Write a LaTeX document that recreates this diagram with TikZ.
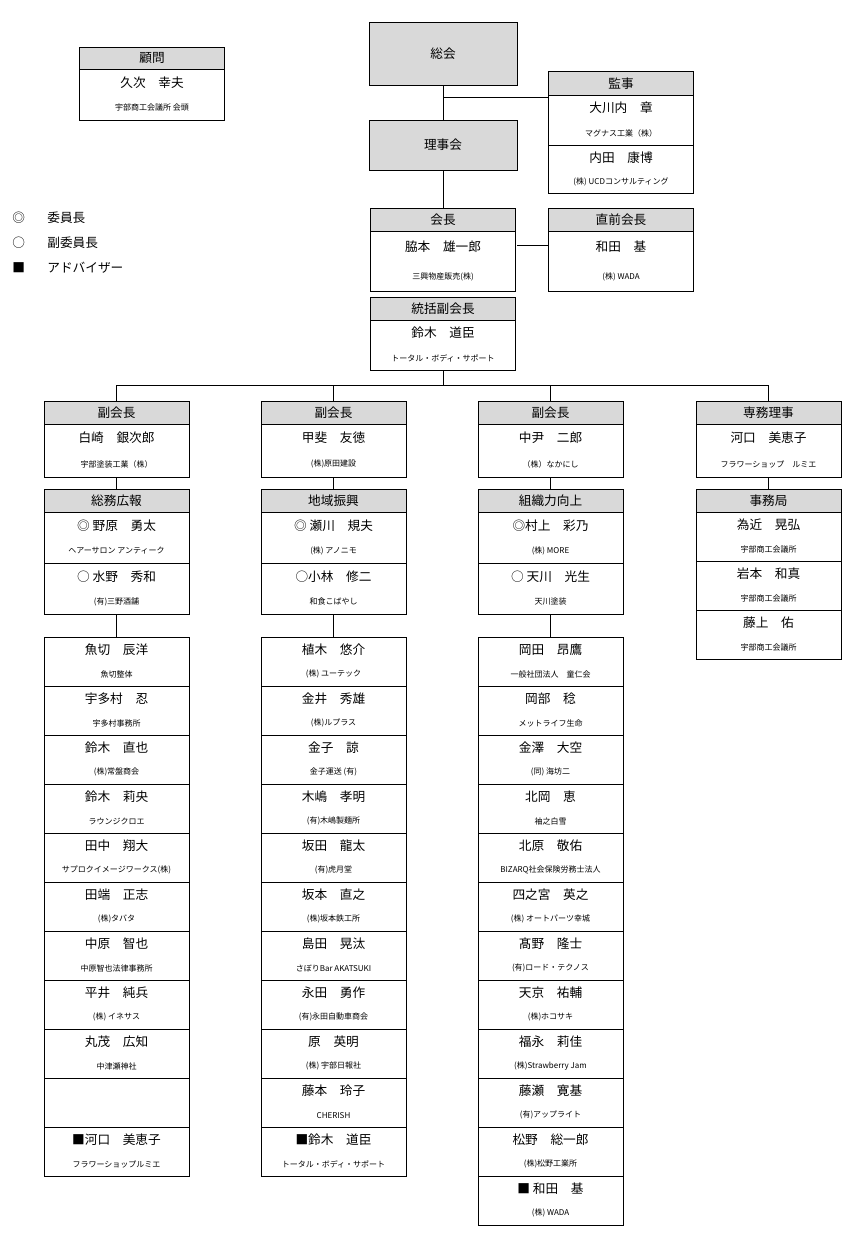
\documentclass[tikz,border=0pt]{standalone}
\usepackage{fontspec}
\setmainfont{Noto Sans CJK JP}
\newcommand\nm{\fontsize{9.5pt}{11pt}\selectfont}
\newcommand\co{\fontsize{6pt}{7pt}\selectfont}
\tikzset{
 hd/.style={draw,fill=gray!30,minimum width=108.75pt,inner sep=0pt,font=\nm},
 memb/.style={draw,minimum width=108.75pt,inner sep=0pt},
 txt/.style={inner sep=0pt},
 ln/.style={line width=0.6pt}
}
% \Hd{name}{x}{ytop}{hpx}{text}
\newcommand\Hd[5]{\node[hd,anchor=north,minimum height=#4*0.75pt] (#1) at (#2,#3) {#5};}
% \Mem{name}{x}{ytop}{hpx}{person}{company}
\newcommand\Mem[6]{\node[memb,anchor=north,minimum height=#4*0.75pt] (#1) at (#2,#3) {};
 \node[txt] at ([yshift=-0.195*#4pt]#1.north) {\nm #5};
 \node[txt] at ([yshift=-0.57*#4pt]#1.north) {\co #6};}
\begin{document}
\begin{tikzpicture}[x=0.75pt,y=-0.75pt,line width=0.6pt]
\useasboundingbox (0,0) rectangle (850,1250);
% top
\node[draw,fill=gray!30,minimum width=111pt,minimum height=47.25pt,font=\nm] (sokai) at (443,53.5) {総会};
\node[draw,fill=gray!30,minimum width=111pt,minimum height=37.5pt,font=\nm] (riji) at (443,145) {理事会};
\draw (sokai) -- (riji);
% komon
\Hd{komon}{152}{47}{22}{顧問}
\Mem{komon1}{152}{69}{51}{久次　幸夫}{宇部商工会議所 会頭}
% kanji
\Hd{kanji}{621}{71}{24}{監事}
\Mem{kanji1}{621}{95}{50}{大川内　章}{マグナス工業（株）}
\Mem{kanji2}{621}{145}{48}{内田　康博}{(株) UCDコンサルティング}
\coordinate (j1) at (443,97);
\draw (j1) -- (j1 -| kanji1.west);
% kaicho
\Hd{kaicho}{443}{208}{23}{会長}
\Mem{kaicho1}{443}{231}{60}{脇本　雄一郎}{三興物産販売(株)}
\Hd{choku}{621}{208}{23}{直前会長}
\Mem{choku1}{621}{231}{60}{和田　基}{(株) WADA}
\draw (riji) -- (kaicho);
\coordinate (j2) at (517,245);
\draw (j2) -- (j2 -| choku1.west);
\Hd{tokatsu}{443}{297}{23}{統括副会長}
\Mem{tokatsu1}{443}{320}{50}{鈴木　道臣}{トータル・ボディ・サポート}
\coordinate (bus) at (443,385);
\draw (tokatsu1.south) -- (bus);
% legend
\node[txt,anchor=west,font=\nm] (lg1) at (12,218) {◎};
\node[txt,anchor=west,font=\nm] (lg1t) at (47,218) {委員長};
\node[txt,anchor=west,font=\nm] (lg2) at (12,243) {○};
\node[txt,anchor=west,font=\nm] (lg2t) at (47,243) {副委員長};
\node[txt,anchor=west,font=\nm] (lg3) at (12,268) {■};
\node[txt,anchor=west,font=\nm] (lg3t) at (47,268) {アドバイザー};
% columns
\Hd{v1}{116.5}{401}{23}{副会長}
\Mem{v1m}{116.5}{424}{53}{白崎　銀次郎}{宇部塗装工業（株）}
\Hd{v2}{333.5}{401}{23}{副会長}
\Mem{v2m}{333.5}{424}{53}{甲斐　友徳}{(株)原田建設}
\Hd{v3}{550.5}{401}{23}{副会長}
\Mem{v3m}{550.5}{424}{53}{中尹　二郎}{（株）なかにし}
\Hd{v4}{768.5}{401}{23}{専務理事}
\Mem{v4m}{768.5}{424}{53}{河口　美恵子}{フラワーショップ　ルミエ}
\foreach \n in {v1,v2,v3,v4} {\draw (\n.north) |- (bus);}
% committees
\Hd{h1}{116.5}{489}{23}{総務広報}
\Mem{h1a}{116.5}{512}{51}{◎ 野原　勇太}{ヘアーサロン アンティーク}
\Mem{h1b}{116.5}{563}{51}{○ 水野　秀和}{(有)三野酒舗}
\Hd{h2}{333.5}{489}{23}{地域振興}
\Mem{h2a}{333.5}{512}{51}{◎ 瀬川　規夫}{(株) アノニモ}
\Mem{h2b}{333.5}{563}{51}{○小林　修二}{和食こばやし}
\Hd{h3}{550.5}{489}{23}{組織力向上}
\Mem{h3a}{550.5}{512}{51}{◎村上　彩乃}{(株) MORE}
\Mem{h3b}{550.5}{563}{51}{○ 天川　光生}{天川塗装}
\Hd{h4}{768.5}{489}{23}{事務局}
\Mem{h4a}{768.5}{512}{49}{為近　晃弘}{宇部商工会議所}
\Mem{h4b}{768.5}{561}{49}{岩本　和真}{宇部商工会議所}
\Mem{h4c}{768.5}{610}{49}{藤上　佑}{宇部商工会議所}
\foreach \n in {1,2,3,4} {\draw (v\n m.south) -- (h\n.north);}
% member lists
\foreach [count=\i] \p/\q in {魚切　辰洋/魚切整体,宇多村　忍/宇多村事務所,鈴木　直也/(株)常盤商会,鈴木　莉央/ラウンジクロエ,田中　翔大/サプロクイメージワークス(株),田端　正志/(株)タバタ,中原　智也/中原智也法律事務所,平井　純兵/(株) イネサス,丸茂　広知/中津瀬神社,{}/{},■河口　美恵子/フラワーショップルミエ}
 {\pgfmathsetmacro\yy{637+49*(\i-1)}\Mem{a\i}{116.5}{\yy}{49}{\p}{\q}}
\foreach [count=\i] \p/\q in {植木　悠介/(株) ユーテック,金井　秀雄/(株)ルプラス,金子　諒/金子運送 (有),木嶋　孝明/(有)木嶋製麺所,坂田　龍太/(有)虎月堂,坂本　直之/(株)坂本鉄工所,島田　晃汰/さぼりBar AKATSUKI,永田　勇作/(有)永田自動車商会,原　英明/(株) 宇部日報社,藤本　玲子/CHERISH,■鈴木　道臣/トータル・ボディ・サポート}
 {\pgfmathsetmacro\yy{637+49*(\i-1)}\Mem{b\i}{333.5}{\yy}{49}{\p}{\q}}
\foreach [count=\i] \p/\q in {岡田　昂鷹/一般社団法人　童仁会,岡部　稔/メットライフ生命,金澤　大空/(同) 海坊二,北岡　恵/袖之白雪,北原　敬佑/BIZARQ社会保険労務士法人,四之宮　英之/(株) オートパーツ幸城,髙野　隆士/(有)ロード・テクノス,天京　祐輔/(株)ホコサキ,福永　莉佳/(株)Strawberry Jam,藤瀬　寛基/(有)アップライト,松野　総一郎/(株)松野工業所,■ 和田　基/(株) WADA}
 {\pgfmathsetmacro\yy{637+49*(\i-1)}\Mem{c\i}{550.5}{\yy}{49}{\p}{\q}}
\draw (h1b.south) -- (a1.north);
\draw (h2b.south) -- (b1.north);
\draw (h3b.south) -- (c1.north);
\end{tikzpicture}
\end{document}
